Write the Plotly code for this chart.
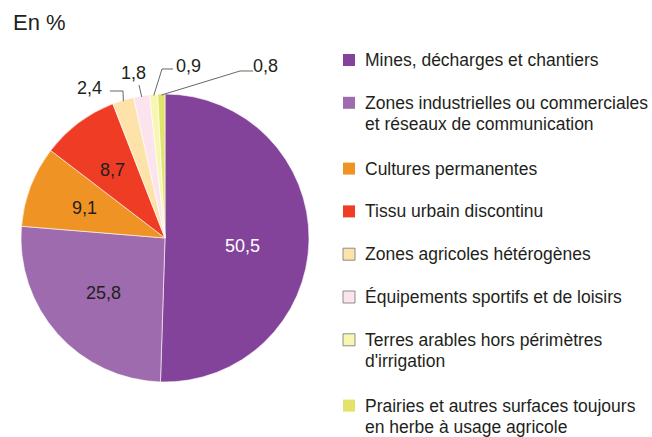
import math
import plotly.graph_objects as go

# Land-cover categories (legend order = slice order, clockwise from 12 o'clock)
categories = [
    "Mines, décharges et chantiers",
    "Zones industrielles ou commerciales\net réseaux de communication",
    "Cultures permanentes",
    "Tissu urbain discontinu",
    "Zones agricoles hétérogènes",
    "Équipements sportifs et de loisirs",
    "Terres arables hors périmètres\nd'irrigation",
    "Prairies et autres surfaces toujours\nen herbe à usage agricole",
]
values = [50.5, 25.8, 9.1, 8.7, 2.4, 1.8, 0.9, 0.8]
value_labels = ["50,5", "25,8", "9,1", "8,7", "2,4", "1,8", "0,9", "0,8"]

colors = ["#84439A", "#9E6CAE", "#EF9424", "#EF3C25",
          "#FDE2AA", "#FCE4EE", "#F9F6B2", "#E1E36A"]
outlined = [False, False, False, False, True, True, True, False]
label_colors = ["white", "#231F20", "#231F20", "#231F20"]

W, H = 652, 437
CX, CY, R = 165, 238, 144
FONT = "Liberation Sans, Arial, Helvetica, sans-serif"
TEXT = "#231F20"


def px(x):
    return x / W


def py(y):
    return 1 - y / H


fig = go.Figure()
fig.add_trace(go.Pie(
    values=values,
    labels=[c.replace("\n", " ") for c in categories],
    sort=False,
    direction="clockwise",
    rotation=0,
    marker=dict(colors=colors, line=dict(color="white", width=0.6)),
    textinfo="none",
    showlegend=False,
    hoverinfo="label+value",
    domain=dict(x=[px(CX - R), px(CX + R)], y=[py(CY + R), py(CY - R)]),
))

# slice mid-angles (degrees clockwise from the top)
total = sum(values)
mids = []
acc = 0.0
for v in values:
    mids.append((acc + v / 2) / total * 360)
    acc += v


def polar(angle, r):
    a = math.radians(angle)
    return CX + r * math.sin(a), CY - r * math.cos(a)


annotations = []
shapes = []

# labels inside the large slices (radius fraction, pixel nudge)
inside = [(0.54, 0, 7), (0.57, 0, 0), (0.60, 0, 1), (0.60, -1, 1)]
for i, (frac, dx, dy) in enumerate(inside):
    x, y = polar(mids[i], R * frac)
    annotations.append(dict(
        x=px(x + dx), y=py(y + dy), xref="paper", yref="paper", text=value_labels[i],
        showarrow=False, xanchor="center", yanchor="middle", borderpad=0,
        font=dict(family=FONT, size=18, color=label_colors[i]),
    ))

# labels outside the thin slices, with leader lines
outside = {
    4: dict(text=(89, 88), path=[(110, 91), (123, 91)]),
    5: dict(text=(133, 73), path=[(139, 85)]),
    6: dict(text=(188, 66), path=[(173, 69), (162, 69)]),
    7: dict(text=(265, 66), path=[(253, 71), (240, 71)]),
}
for i, spec in outside.items():
    tx, ty = spec["text"]
    annotations.append(dict(
        x=px(tx), y=py(ty), xref="paper", yref="paper", text=value_labels[i],
        showarrow=False, xanchor="center", yanchor="middle", borderpad=0,
        font=dict(family=FONT, size=18, color=TEXT),
    ))
    pts = spec["path"] + [polar(mids[i], R - 1)]
    d = "M " + " L ".join(f"{px(x):.5f},{py(y):.5f}" for x, y in pts)
    shapes.append(dict(type="path", path=d, xref="paper", yref="paper",
                       line=dict(color="#555555", width=0.9)))

# legend
SQ_X0, SQ = 343, 12
TEXT_X = 364
LINE_GAP = 21
y_center = 60
for i, cat in enumerate(categories):
    lines = cat.split("\n")
    shapes.append(dict(
        type="rect", xref="paper", yref="paper",
        x0=px(SQ_X0), x1=px(SQ_X0 + SQ),
        y0=py(y_center - SQ / 2), y1=py(y_center + SQ / 2),
        fillcolor=colors[i],
        line=dict(color="#8C8C8C" if outlined[i] else colors[i],
                  width=1 if outlined[i] else 0),
    ))
    for j, line in enumerate(lines):
        annotations.append(dict(
            x=px(TEXT_X), y=py(y_center + j * LINE_GAP), xref="paper", yref="paper",
            text=line, showarrow=False, xanchor="left", yanchor="middle",
            borderpad=0, font=dict(family=FONT, size=17.5, color=TEXT),
        ))
    y_center += 42.8 + 23 * (len(lines) - 1)

# unit caption
annotations.append(dict(
    x=px(12), y=py(22.5), xref="paper", yref="paper", text="En %",
    showarrow=False, xanchor="left", yanchor="middle", borderpad=0,
    font=dict(family=FONT, size=22, color=TEXT),
))

fig.update_layout(
    width=W, height=H,
    margin=dict(l=0, r=0, t=0, b=0),
    paper_bgcolor="white",
    plot_bgcolor="white",
    annotations=annotations,
    shapes=shapes,
)

fig.write_html("out.html")
